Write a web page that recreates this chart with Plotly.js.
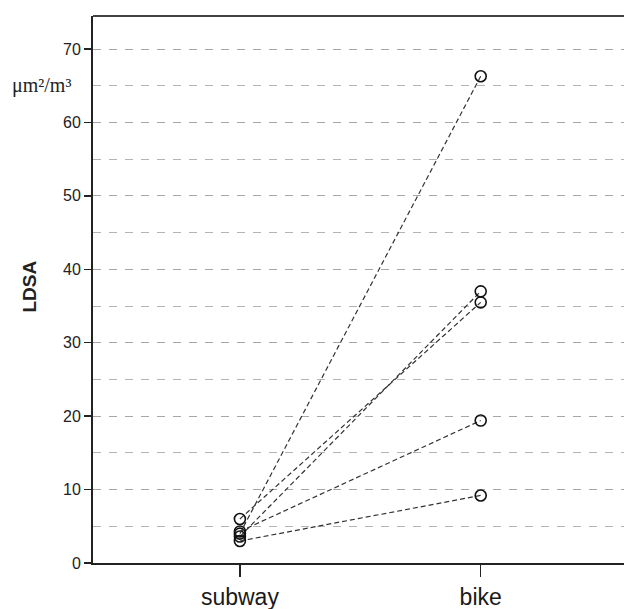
<!DOCTYPE html>
<html>
<head>
<meta charset="utf-8">
<script src="https://cdn.plot.ly/plotly-3.0.1.min.js"></script>
<style>html,body{margin:0;padding:0;background:#fff;overflow:hidden;}#chart{width:624px;height:609px;}</style>
</head>
<body>
<div id="chart"></div>
<script>
const categories = ["subway", "bike"];
const subwayValues = [4.0, 3.6, 6.0, 4.3, 3.0];
const bikeValues = [66.3, 37.0, 35.5, 19.4, 9.2];
const yTicks = [0, 10, 20, 30, 40, 50, 60, 70];
const unitLabel = "μm²/m³";
const yTitle = "LDSA";

const traces = subwayValues.map((s, i) => ({
  type: "scatter",
  mode: "lines+markers",
  x: categories,
  y: [s, bikeValues[i]],
  line: {color: "#333", width: 1.2, dash: "5px,3px"},
  marker: {symbol: "circle-open", size: 11, color: "#111", line: {width: 1.6, color: "#111"}},
  showlegend: false,
  hoverinfo: "skip",
  cliponaxis: false
}));

const layout = {
  width: 624, height: 609,
  margin: {l: 93, r: 0, t: 16, b: 46},
  paper_bgcolor: "#fff", plot_bgcolor: "#fff",
  font: {family: "Liberation Sans, Arial, sans-serif", color: "#222"},
  xaxis: {
    type: "category",
    range: [-0.61, 1.595],
    showline: true, linecolor: "#222", linewidth: 2, mirror: false,
    ticks: "outside", ticklen: 12, tickwidth: 1.5, tickcolor: "#222",
    tickfont: {size: 23, family: "Liberation Sans, Arial, sans-serif", color: "#1a1a1a"},
    showgrid: false, zeroline: false
  },
  yaxis: {
    range: [0, 74.5],
    tickvals: yTicks,
    showline: true, linecolor: "#222", linewidth: 2, mirror: false,
    ticks: "outside", ticklen: 7, tickwidth: 1.5, tickcolor: "#222",
    tickfont: {size: 16, color: "#222"},
    showgrid: true, gridcolor: "#a8a8a8", gridwidth: 1, griddash: "8px,8px",
    minor: {dtick: 5, tick0: 0, showgrid: true, gridcolor: "#b4b4b4", gridwidth: 1, griddash: "8px,8px", ticks: ""},
    zeroline: false
  },
  shapes: [
    {type: "line", xref: "paper", yref: "paper", x0: 0, x1: 1, y0: 1, y1: 1,
     line: {color: "#444", width: 2}}
  ],
  annotations: [
    {xref: "paper", yref: "paper", x: -0.119, y: 0.505, text: yTitle, textangle: -90,
     showarrow: false, font: {size: 19, weight: "bold", color: "#222"}, xanchor: "center", yanchor: "middle"},
    {xref: "paper", yref: "y", x: -0.038, y: 65, text: unitLabel, showarrow: false,
     font: {size: 20, family: "Liberation Serif, Times New Roman, serif", color: "#222"}, xanchor: "right", yanchor: "middle"}
  ]
};

Plotly.newPlot("chart", traces, layout, {staticPlot: true, displayModeBar: false});
</script>
</body>
</html>
